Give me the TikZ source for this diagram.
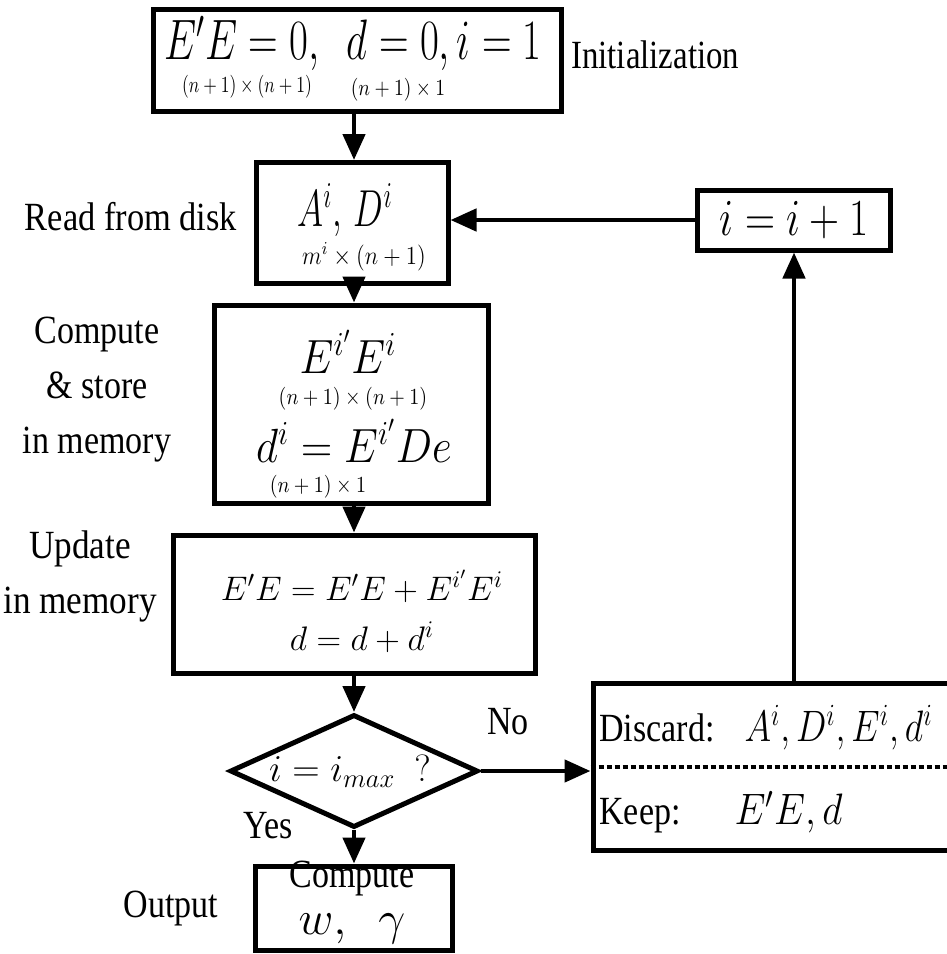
\RequirePackage{fix-cm}
\documentclass[tikz,border=0pt]{standalone}
\usepackage{amsmath}
\usepackage{graphicx}
\usepackage[no-math]{fontspec}
\setmainfont{Liberation Serif}
\usetikzlibrary{arrows.meta,shapes.geometric}
\newcommand{\sqz}[2]{\scalebox{#1}[1]{#2}}
\newcommand{\fsz}[1]{\fontsize{#1}{#1}\selectfont}
\begin{document}
\begin{tikzpicture}[x=0.5pt,y=-0.5pt,
  box/.style={draw,line width=2.5pt,inner sep=0pt,rectangle},
  arr/.style={line width=2.3pt,-{Triangle[length=13pt,width=11pt]}},
  lbl/.style={inner sep=0pt,font=\fontsize{20}{27.5}\selectfont,align=center},
  mth/.style={inner sep=0pt,anchor=base}]
\clip (0,0) rectangle (947,954);
\fill[white] (0,0) rectangle (947,954);
\coordinate (col) at (354,0);

% initialization
\node[box,minimum width=204pt,minimum height=51pt] (init) at (357,60) {};
\node[mth] (initm) at (353,59) {\sqz{0.72}{\fsz{28.5}$E'E=0,\ \ d=0, i=1$}};
\node[mth] (inits1) at (247,92) {\sqz{0.76}{\fsz{11.5}$(n+1)\times(n+1)$}};
\node[mth] (inits2) at (398,95) {\sqz{0.85}{\fsz{11.5}$(n+1)\times 1$}};
\node[lbl,anchor=west] (initl) at (571,55) {\sqz{0.82}{Initialization}};

% read
\node[box,minimum width=96pt,minimum height=60.5pt] (read) at (352,223) {};
\node[mth] (readm) at (345,226) {\sqz{0.68}{\fsz{26}$A^i,\, D^i$}};
\node[mth] (reads) at (364,264) {\sqz{0.88}{\fsz{13}$m^i\times(n+1)$}};
\node[lbl] (readl) at (131,217) {\sqz{0.86}{Read from disk}};

% i = i+1
\node[box,minimum width=96.5pt,minimum height=30pt] (inc) at (794,220)
  {\sqz{0.8}{\fsz{26}$i=i+1$}};

% compute
\node[box,minimum width=137pt,minimum height=99pt] (comp) at (351,404) {};
\node[mth] (compa) at (348,373) {\sqz{0.9}{\fsz{24}$E^{i'}E^{i}$}};
\node[mth] (compsa) at (353,404) {\sqz{0.87}{\fsz{11.5}$(n+1)\times(n+1)$}};
\node[mth] (compb) at (354,462) {\sqz{0.9}{\fsz{24}$d^{i}=E^{i'}De$}};
\node[mth] (compsb) at (318,492) {\sqz{0.87}{\fsz{11.5}$(n+1)\times 1$}};
\node[lbl] (compl) at (97,390) {\sqz{0.85}{Compute}\\\sqz{0.85}{\& store}\\\sqz{0.85}{in memory}};

% update
\node[box,minimum width=181pt,minimum height=69pt] (upd) at (354,604) {};
\node[mth] (upda) at (362,600) {\fsz{17}$E'E=E'E+E^{i'}E^{i}$};
\node[mth] (updb) at (362,650) {\fsz{17}$d=d+d^{i}$};
\node[lbl] (updl) at (80,576) {\sqz{0.88}{Update}\\\sqz{0.88}{in memory}};

% decision
\node[draw,line width=2.5pt,shape=diamond,inner sep=0pt,minimum width=124pt,minimum height=56.5pt] (dec) at (354,771) {};
\node[inner sep=0pt] (dect) at (350,771) {\fsz{19}$i=i_{max}\ \ ?$};
\node[lbl] (no) at (508,722) {\sqz{0.85}{No}};
\node[lbl] (yes) at (268,826) {\sqz{0.85}{Yes}};

% discard / keep
\node[box,minimum width=188.5pt,minimum height=83.5pt] (disc) at (781.5,766.5) {};
\draw[line width=2pt,dash pattern=on 2.5pt off 1.5pt] (disc.west) -- (disc.east);
\node[lbl,anchor=west] (discl) at (599,728)
  {\sqz{0.85}{Discard:}\hspace{15pt}\sqz{0.82}{\fsz{22}$A^i, D^i, E^i, d^i$}};
\node[lbl,anchor=west] (keepl) at (599,812)
  {\sqz{0.85}{Keep:}\hspace{27pt}\sqz{0.9}{\fsz{22}$E'E, d$}};

% output
\node[box,minimum width=98.5pt,minimum height=42pt] (out) at (354,908) {};
\node[lbl] (outa) at (352,879) {\sqz{0.85}{Compute}};
\node[mth] (outb) at (352,934) {\fsz{24}$w,\ \ \gamma$};
\node[lbl] (outl) at (171,909) {\sqz{0.85}{Output}};

% connectors
\draw[arr] (init.south -| col) -- (read.north -| col);
\draw[arr] (read.south -| col) -- (comp.north -| col);
\draw[arr] (comp.south -| col) -- (upd.north -| col);
\draw[arr] (upd.south -| col) -- (dec.north);
\draw[arr] (dec.south) -- (out.north);
\draw[arr] (dec.east) -- (disc.west |- dec.east);
\draw[arr] (disc.north -| inc.south) -- (inc.south);
\draw[arr] (inc.west) -- (read.east |- inc.west);
\end{tikzpicture}
\end{document}
